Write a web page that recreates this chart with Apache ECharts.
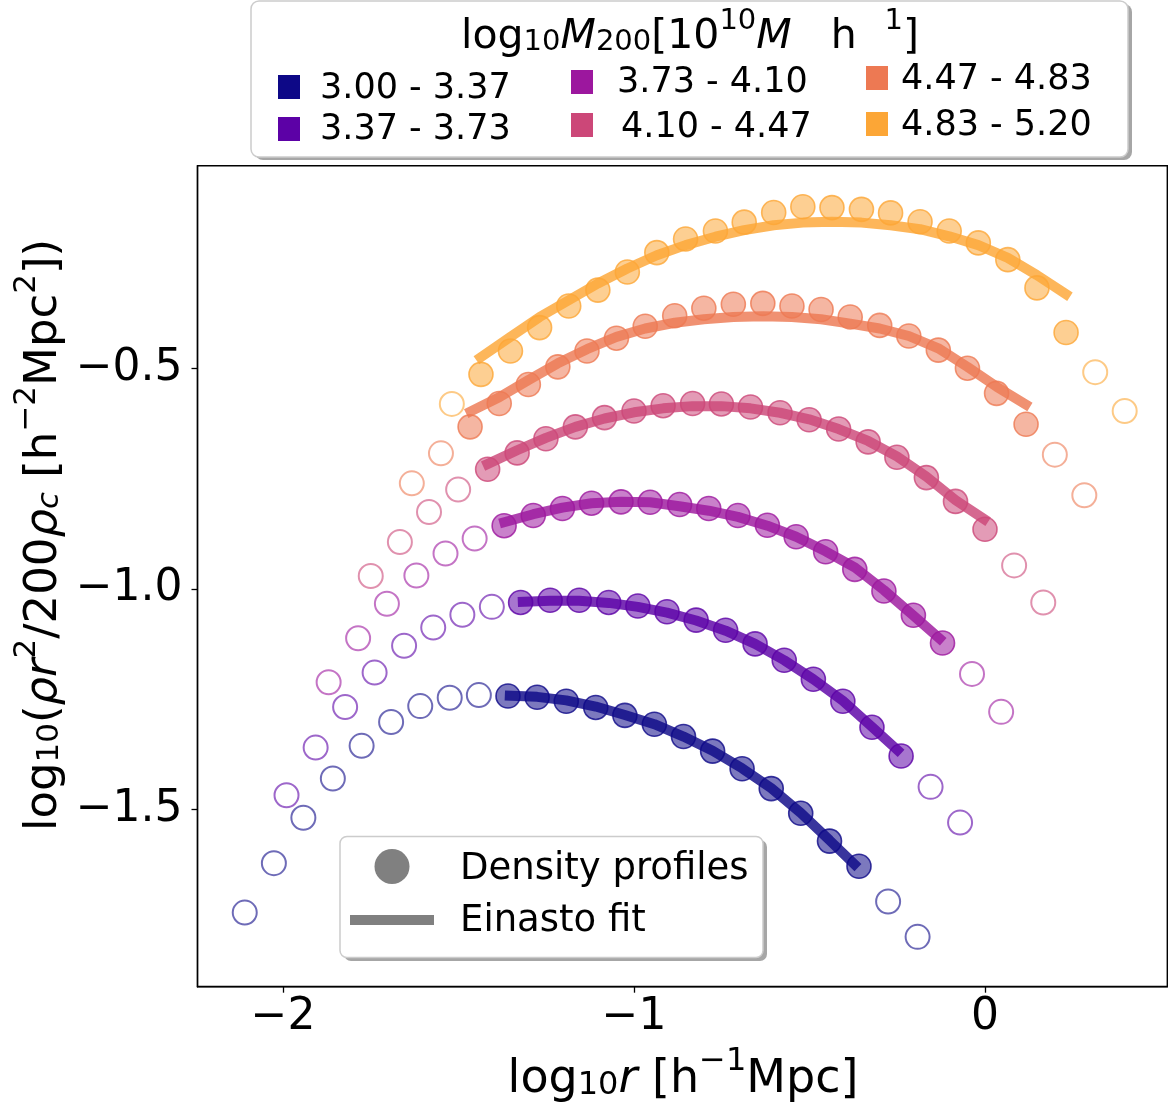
<!DOCTYPE html>
<html><head><meta charset="utf-8">
<script src="https://cdn.jsdelivr.net/npm/echarts@6/dist/echarts.min.js"></script>
<style>html,body{margin:0;padding:0;background:#fff}#c{width:1175px;height:1108px}</style>
</head><body><div id="c"></div>
<script>
// ---------------- data ----------------
const massBins = ['3.00 - 3.37', '3.37 - 3.73', '3.73 - 4.10', '4.10 - 4.47', '4.47 - 4.83', '4.83 - 5.20'];
const xTicks = [-2, -1, 0];
const yTicks = [-1.5, -1.0, -0.5];

// bin 1 : 3.00 - 3.37
const b1OpenX = [-2.109, -2.026, -1.942, -1.858, -1.776, -1.692, -1.609, -1.525, -1.442, -0.276, -0.192];
const b1OpenY = [-1.734, -1.622, -1.519, -1.430, -1.356, -1.302, -1.266, -1.247, -1.241, -1.709, -1.789];
const b1FillX = [-1.359, -1.276, -1.193, -1.109, -1.026, -0.942, -0.859, -0.776, -0.692, -0.609, -0.525, -0.443, -0.359];
const b1FillY = [-1.243, -1.246, -1.255, -1.269, -1.287, -1.307, -1.335, -1.368, -1.408, -1.453, -1.509, -1.572, -1.629];
const b1FitX = [-1.368, -1.276, -1.193, -1.109, -1.026, -0.942, -0.859, -0.776, -0.692, -0.609, -0.525, -0.443, -0.362];
const b1FitY = [-1.242, -1.245, -1.253, -1.267, -1.286, -1.307, -1.335, -1.367, -1.407, -1.452, -1.508, -1.570, -1.632];

// bin 2 : 3.37 - 3.73
const b2OpenX = [-1.990, -1.907, -1.823, -1.739, -1.655, -1.572, -1.489, -1.405, -0.155, -0.071];
const b2OpenY = [-1.468, -1.360, -1.268, -1.190, -1.129, -1.088, -1.059, -1.041, -1.449, -1.530];
const b2FillX = [-1.323, -1.239, -1.156, -1.072, -0.989, -0.906, -0.823, -0.739, -0.655, -0.572, -0.489, -0.405, -0.322, -0.239];
const b2FillY = [-1.031, -1.026, -1.026, -1.031, -1.039, -1.052, -1.071, -1.094, -1.125, -1.162, -1.205, -1.255, -1.314, -1.379];
const b2FitX = [-1.331, -1.239, -1.156, -1.072, -0.989, -0.906, -0.823, -0.739, -0.655, -0.572, -0.489, -0.405, -0.322, -0.239];
const b2FitY = [-1.030, -1.027, -1.027, -1.032, -1.041, -1.054, -1.072, -1.095, -1.125, -1.162, -1.205, -1.254, -1.313, -1.373];

// bin 3 : 3.73 - 4.10
const b3OpenX = [-1.870, -1.786, -1.704, -1.620, -1.537, -1.454, -0.037, 0.046];
const b3OpenY = [-1.212, -1.112, -1.034, -0.970, -0.920, -0.886, -1.193, -1.279];
const b3FillX = [-1.370, -1.287, -1.204, -1.121, -1.037, -0.954, -0.870, -0.787, -0.704, -0.620, -0.538, -0.454, -0.371, -0.288, -0.204, -0.121];
const b3FillY = [-0.857, -0.834, -0.818, -0.806, -0.803, -0.804, -0.809, -0.818, -0.834, -0.856, -0.882, -0.916, -0.956, -1.005, -1.060, -1.123];
const b3FitX = [-1.383, -1.287, -1.204, -1.121, -1.037, -0.954, -0.871, -0.787, -0.704, -0.620, -0.538, -0.454, -0.370, -0.288, -0.205, -0.119];
const b3FitY = [-0.852, -0.831, -0.816, -0.806, -0.803, -0.804, -0.813, -0.823, -0.837, -0.857, -0.882, -0.915, -0.952, -1.003, -1.060, -1.120];

// bin 4 : 4.10 - 4.47
const b4OpenX = [-1.750, -1.667, -1.584, -1.501, 0.083, 0.166];
const b4OpenY = [-0.971, -0.894, -0.826, -0.775, -0.947, -1.031];
const b4FillX = [-1.417, -1.333, -1.251, -1.167, -1.084, -1.000, -0.917, -0.833, -0.751, -0.668, -0.584, -0.501, -0.417, -0.333, -0.251, -0.167, -0.084, 0.000];
const b4FillY = [-0.729, -0.692, -0.660, -0.633, -0.612, -0.597, -0.585, -0.580, -0.581, -0.588, -0.601, -0.617, -0.638, -0.667, -0.702, -0.748, -0.802, -0.865];
const b4FitX = [-1.430, -1.333, -1.251, -1.167, -1.084, -1.000, -0.917, -0.834, -0.751, -0.668, -0.584, -0.501, -0.417, -0.333, -0.251, -0.167, -0.084, 0.009];
const b4FitY = [-0.722, -0.686, -0.658, -0.633, -0.614, -0.600, -0.591, -0.586, -0.586, -0.591, -0.601, -0.616, -0.638, -0.665, -0.700, -0.746, -0.799, -0.848];

// bin 5 : 4.47 - 4.83
const b5OpenX = [-1.633, -1.550, 0.199, 0.283];
const b5OpenY = [-0.761, -0.693, -0.696, -0.788];
const b5FillX = [-1.467, -1.384, -1.301, -1.217, -1.134, -1.050, -0.968, -0.884, -0.801, -0.717, -0.633, -0.550, -0.467, -0.384, -0.300, -0.217, -0.133, -0.050, 0.033, 0.117];
const b5FillY = [-0.633, -0.580, -0.537, -0.497, -0.461, -0.432, -0.405, -0.381, -0.364, -0.355, -0.353, -0.359, -0.367, -0.384, -0.403, -0.427, -0.459, -0.500, -0.557, -0.627];
const b5FitX = [-1.478, -1.384, -1.301, -1.217, -1.134, -1.050, -0.968, -0.884, -0.801, -0.717, -0.633, -0.550, -0.467, -0.384, -0.300, -0.217, -0.133, -0.050, 0.033, 0.128];
const b5FitY = [-0.603, -0.566, -0.527, -0.489, -0.457, -0.429, -0.410, -0.397, -0.389, -0.384, -0.382, -0.384, -0.389, -0.399, -0.410, -0.427, -0.455, -0.497, -0.542, -0.588];

// bin 6 : 4.83 - 5.20
const b6OpenX = [-1.519, 0.314, 0.398];
const b6OpenY = [-0.581, -0.509, -0.597];
const b6FillX = [-1.436, -1.352, -1.269, -1.186, -1.103, -1.019, -0.935, -0.853, -0.768, -0.686, -0.602, -0.519, -0.436, -0.352, -0.269, -0.185, -0.102, -0.019, 0.065, 0.148, 0.231];
const b6FillY = [-0.514, -0.461, -0.408, -0.359, -0.323, -0.282, -0.238, -0.207, -0.189, -0.169, -0.147, -0.134, -0.136, -0.140, -0.148, -0.168, -0.189, -0.216, -0.254, -0.318, -0.419];
const b6FitX = [-1.449, -1.352, -1.269, -1.186, -1.103, -1.019, -0.935, -0.853, -0.768, -0.686, -0.602, -0.519, -0.436, -0.352, -0.269, -0.185, -0.102, -0.019, 0.065, 0.148, 0.242];
const b6FitY = [-0.482, -0.429, -0.384, -0.346, -0.308, -0.274, -0.244, -0.221, -0.202, -0.187, -0.176, -0.170, -0.168, -0.170, -0.176, -0.185, -0.201, -0.221, -0.250, -0.289, -0.338];

// ---------------- styles ----------------
const colors = ['#0d0887', '#5c01a6', '#9c179e', '#cc4778', '#ed7953', '#fca636'];
const F = 'DejaVu Sans';

const bins = [
  [b1OpenX, b1OpenY, b1FillX, b1FillY, b1FitX, b1FitY],
  [b2OpenX, b2OpenY, b2FillX, b2FillY, b2FitX, b2FitY],
  [b3OpenX, b3OpenY, b3FillX, b3FillY, b3FitX, b3FitY],
  [b4OpenX, b4OpenY, b4FillX, b4FillY, b4FitX, b4FitY],
  [b5OpenX, b5OpenY, b5FillX, b5FillY, b5FitX, b5FitY],
  [b6OpenX, b6OpenY, b6FillX, b6FillY, b6FitX, b6FitY]
];

function pairs(xs, ys) { return xs.map((x, i) => [x, ys[i]]); }
function rgba(hex, a) {
  const n = parseInt(hex.slice(1), 16);
  return 'rgba(' + ((n >> 16) & 255) + ',' + ((n >> 8) & 255) + ',' + (n & 255) + ',' + a + ')';
}
function minus(v, d) {
  const s = Math.abs(v).toFixed(d);
  return v < 0 ? '\u2212' + s : s;
}
function rich(fs) {
  const L = Math.round(fs * 1.2);
  const sf = Math.round(fs * 0.7);
  return {
    n: { fontFamily: F, fontSize: fs, lineHeight: L, color: '#000' },
    i: { fontFamily: F, fontSize: fs, fontStyle: 'italic', lineHeight: L, color: '#000' },
    sup: { fontFamily: F, fontSize: sf, height: Math.round(L - 0.78 * fs), verticalAlign: 'top', color: '#000' },
    sub: { fontFamily: F, fontSize: sf, height: Math.round(L - 0.26 * fs), verticalAlign: 'bottom', color: '#000' },
    subi: { fontFamily: F, fontSize: sf, fontStyle: 'italic', height: Math.round(L - 0.26 * fs), verticalAlign: 'bottom', color: '#000' }
  };
}

const series = [];
bins.forEach((b, i) => {
  const c = colors[i];
  series.push({
    name: massBins[i] + ' (outside fit)', type: 'scatter', symbol: 'circle', symbolSize: 24,
    data: pairs(b[0], b[1]),
    itemStyle: { color: 'rgba(255,255,255,0)', borderColor: rgba(c, 0.75), borderWidth: 2 },
    silent: true
  });
  series.push({
    name: massBins[i], type: 'scatter', symbol: 'circle', symbolSize: 24,
    data: pairs(b[2], b[3]),
    itemStyle: { color: rgba(c, 0.68), borderColor: c, borderWidth: 1.6 },
    silent: true
  });
  series.push({
    name: massBins[i] + ' Einasto', type: 'line', showSymbol: false, symbol: 'none',
    data: pairs(b[4], b[5]),
    lineStyle: { width: 10, color: c, opacity: 0.82, cap: 'butt' },
    silent: true
  });
});

const graphics = [];
// ---- top legend box ----
graphics.push({ type: 'rect', shape: { x: 255, y: 4, width: 877, height: 156, r: 8 }, style: { fill: 'rgba(0,0,0,0.35)' }, z: 10 });
graphics.push({ type: 'rect', shape: { x: 251, y: 1, width: 877, height: 156, r: 8 }, style: { fill: '#fff', stroke: '#cccccc', lineWidth: 1.5 }, z: 11 });
graphics.push({
  type: 'text', z: 12,
  style: {
    x: 690, y: 37, align: 'center', verticalAlign: 'middle', textAlign: 'center', textVerticalAlign: 'middle',
    text: '{n|log}{sub|10}{i|M}{sub|200}{n|[10}{sup|10}{i|M}{n|   h}{sup|   1}{n|]}',
    rich: rich(41)
  }
});
const legPos = [[289, 87, 320, 89], [289, 129, 320, 130], [582, 82, 617, 83], [582, 125, 621, 128], [877, 78, 901, 80], [877, 124, 901, 126]];
legPos.forEach((p, i) => {
  graphics.push({ type: 'rect', shape: { x: p[0] - 11, y: p[1] - 12, width: 22, height: 24 }, style: { fill: colors[i] }, z: 12 });
  graphics.push({ type: 'text', z: 12, style: { x: p[2], y: p[3], text: massBins[i], fontFamily: F, fontSize: 35, fill: '#000', align: 'left', verticalAlign: 'middle', textAlign: 'left', textVerticalAlign: 'middle' } });
});
// ---- inner legend ----
graphics.push({ type: 'rect', shape: { x: 344, y: 840, width: 423, height: 121, r: 7 }, style: { fill: 'rgba(0,0,0,0.35)' }, z: 10 });
graphics.push({ type: 'rect', shape: { x: 340, y: 836.5, width: 423, height: 121, r: 7 }, style: { fill: '#fff', stroke: '#cccccc', lineWidth: 1.5 }, z: 11 });
graphics.push({ type: 'circle', shape: { cx: 392, cy: 866.5, r: 17.5 }, style: { fill: '#808080' }, z: 12 });
graphics.push({ type: 'line', shape: { x1: 350, y1: 920, x2: 434, y2: 920 }, style: { stroke: '#808080', lineWidth: 10 }, z: 12 });
graphics.push({ type: 'text', z: 12, style: { x: 460, y: 869, text: 'Density profiles', fontFamily: F, fontSize: 37, fill: '#000', align: 'left', verticalAlign: 'middle', textAlign: 'left', textVerticalAlign: 'middle' } });
graphics.push({ type: 'text', z: 12, style: { x: 460, y: 921, text: 'Einasto fit', fontFamily: F, fontSize: 37, fill: '#000', align: 'left', verticalAlign: 'middle', textAlign: 'left', textVerticalAlign: 'middle' } });
// ---- axis titles ----
graphics.push({
  type: 'text', z: 12,
  style: {
    x: 683, y: 1080, align: 'center', verticalAlign: 'middle', textAlign: 'center', textVerticalAlign: 'middle',
    text: '{n|log}{sub|10}{i|r}{n| [h}{sup|\u22121}{n|Mpc]}', rich: rich(46)
  }
});
graphics.push({
  type: 'text', z: 12, x: 44, y: 535, rotation: Math.PI / 2,
  style: {
    x: 0, y: 0, align: 'center', verticalAlign: 'middle', textAlign: 'center', textVerticalAlign: 'middle',
    text: '{n|log}{sub|10}{n|(}{i|\u03c1r}{sup|2}{n|/200}{i|\u03c1}{subi|c}{n| [h}{sup|\u22122}{n|Mpc}{sup|2}{n|])}',
    rich: rich(45)
  }
});

const chart = echarts.init(document.getElementById('c'), null, { renderer: 'canvas' });
chart.setOption({
  backgroundColor: '#fff',
  animation: false,
  grid: { left: 197.5, top: 165.7, right: 7.7, bottom: 121.3, show: true, borderColor: '#000', borderWidth: 1.4, backgroundColor: 'rgba(0,0,0,0)' },
  xAxis: {
    type: 'value', min: -2.2436, max: 0.5194,
    axisLine: { show: true, onZero: false, lineStyle: { color: '#000', width: 1.4 } },
    axisTick: { show: true, inside: false, length: 6, customValues: xTicks, lineStyle: { color: '#000', width: 1.3 } },
    axisLabel: { show: true, customValues: xTicks, margin: 9, fontFamily: F, fontSize: 44, color: '#000', formatter: v => minus(v, 0) },
    splitLine: { show: false }
  },
  yAxis: {
    type: 'value', min: -1.902, max: -0.041,
    axisLine: { show: true, onZero: false, lineStyle: { color: '#000', width: 1.4 } },
    axisTick: { show: true, inside: false, length: 6, customValues: yTicks, lineStyle: { color: '#000', width: 1.3 } },
    axisLabel: { show: true, customValues: yTicks, margin: 15, fontFamily: F, fontSize: 44, color: '#000', formatter: v => minus(v, 1) },
    splitLine: { show: false }
  },
  series: series,
  graphic: { elements: graphics }
});
</script>
</body></html>
